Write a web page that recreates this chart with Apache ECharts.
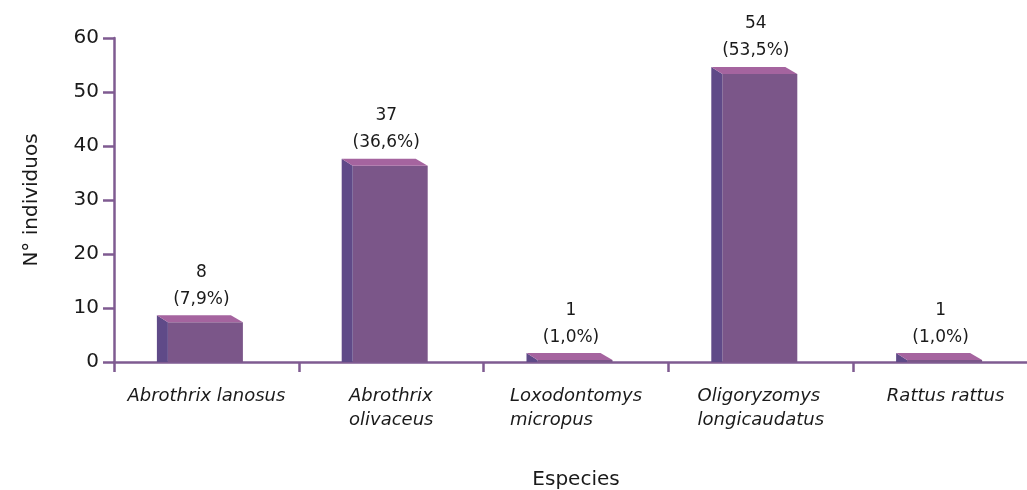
<!DOCTYPE html>
<html>
<head>
<meta charset="utf-8">
<script src="https://cdn.jsdelivr.net/npm/echarts@6/dist/echarts.min.js"></script>
<style>
html,body{margin:0;padding:0;background:#fff;}
#chart{width:1027px;height:490px;}
</style>
</head>
<body>
<div id="chart"></div>
<script>
const categories = ['Abrothrix lanosus', 'Abrothrix\nolivaceus', 'Loxodontomys\nmicropus', 'Oligoryzomys\nlongicaudatus', 'Rattus rattus'];
const counts = [8, 37, 1, 54, 1];
const percents = ['7,9%', '36,6%', '1,0%', '53,5%', '1,0%'];
const yTicks = [0, 10, 20, 30, 40, 50, 60];

const AXIS = '#7f5b91';
const FRONT = '#7b5689';
const SIDE = '#5f4a88';
const TOP = '#a5649f';
const TEXT = '#1a1a1a';
const FONT = '"DejaVu Sans", "Liberation Sans", sans-serif';

const chart = echarts.init(document.getElementById('chart'));

function renderItem(params, api) {
  const idx = api.value(0);
  const v = api.value(1);
  const c = api.coord([idx, v]);
  const base = api.coord([idx, 0]);
  const cx = c[0], ym = c[1], y0 = base[1];
  const yf = ym + 3.5, yb = ym - 3.5;
  const sideL = cx - 49.5, frontL = cx - 38.5, frontR = cx + 36.5;
  return {
    type: 'group',
    children: [
      { type: 'rect', shape: { x: frontL, y: yf, width: frontR - frontL, height: y0 - yf }, style: { fill: FRONT } },
      { type: 'polygon', shape: { points: [[sideL, yb], [frontL, yf], [frontL, y0], [sideL, y0]] }, style: { fill: SIDE } },
      { type: 'polygon', shape: { points: [[sideL, yb], [frontR - 12, yb], [frontR, yf], [frontL, yf]] }, style: { fill: TOP } },
      { type: 'text', x: cx - 5, y: ym - 6,
        style: { text: counts[idx] + '\n(' + percents[idx] + ')', align: 'center', verticalAlign: 'bottom',
                 fontSize: 17, lineHeight: 27, fill: TEXT, fontFamily: FONT } }
    ]
  };
}

chart.setOption({
  animation: false,
  backgroundColor: '#fff',
  grid: { left: 114, top: 38, width: 924, height: 324, outerBoundsMode: 'none', containLabel: false },
  xAxis: {
    type: 'category',
    data: categories,
    boundaryGap: true,
    name: 'Especies',
    nameLocation: 'middle',
    nameGap: 108,
    nameTextStyle: { fontSize: 20, color: TEXT, fontFamily: FONT },
    axisLine: { lineStyle: { color: AXIS, width: 2.5 } },
    axisTick: { show: true, length: 10, alignWithLabel: false, lineStyle: { color: AXIS, width: 2.5 } },
    axisLabel: {
      interval: 0,
      margin: 22,
      fontSize: 18,
      fontStyle: 'italic',
      color: TEXT,
      fontFamily: FONT,
      lineHeight: 24,
      formatter: function (val) {
        return val.split('\n').map(s => '{l|' + s + '}').join('\n');
      },
      rich: { l: { align: 'left', fontSize: 18, fontStyle: 'italic', color: TEXT, fontFamily: FONT, lineHeight: 24 } }
    }
  },
  yAxis: {
    type: 'value',
    min: yTicks[0],
    max: yTicks[yTicks.length - 1],
    interval: yTicks[1] - yTicks[0],
    name: 'N° individuos',
    nameLocation: 'middle',
    nameGap: 72,
    nameRotate: 90,
    nameTextStyle: { fontSize: 20, color: TEXT, fontFamily: FONT },
    axisLine: { show: true, lineStyle: { color: AXIS, width: 2.5 } },
    axisTick: { show: true, length: 11, lineStyle: { color: AXIS, width: 2.5 } },
    axisLabel: { margin: 15, fontSize: 20, color: TEXT, fontFamily: FONT },
    splitLine: { show: false }
  },
  series: [{
    type: 'custom',
    renderItem: renderItem,
    data: counts.map((v, i) => [i, v]),
    encode: { x: 0, y: 1 }
  }]
});
</script>
</body>
</html>
